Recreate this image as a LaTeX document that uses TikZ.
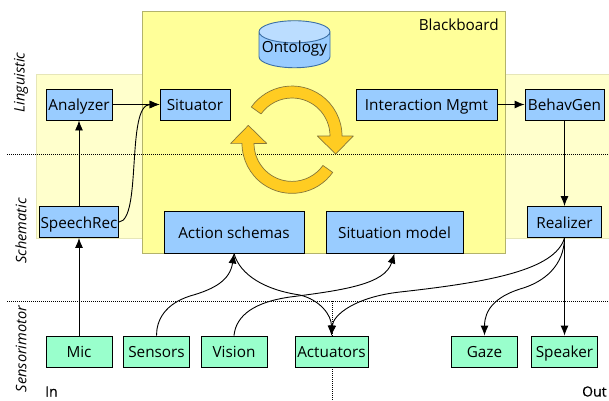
\documentclass[tikz,border=0pt]{standalone}
\usepackage{fontspec}
\setmainfont{Open Sans}
\newfontfamily\ioFont[FakeBold=0.3]{Open Sans}
\usetikzlibrary{arrows.meta,shapes.geometric}
\definecolor{boardFill}{HTML}{FFFF99}
\definecolor{boardEdge}{HTML}{B3B36B}
\definecolor{bandFill}{HTML}{FFFFCC}
\definecolor{bandEdge}{HTML}{E6E6B8}
\definecolor{compFill}{HTML}{99CCFF}
\definecolor{ioFill}{HTML}{99FFCC}
\definecolor{ontoEdge}{HTML}{3A6EA5}
\definecolor{ontoTop}{HTML}{BBDDFF}
\definecolor{loopFill}{HTML}{FFCC22}
\definecolor{loopEdge}{HTML}{85763A}
\tikzset{
 x=1pt, y=1pt,
 block/.style = {draw=black, line width=0.9pt, inner sep=0pt, text height=15pt, text depth=3pt, font=\fontsize{15.3}{17}\selectfont},
 comp/.style = {block, fill=compFill},
 io/.style = {block, fill=ioFill},
 link/.style = {draw=black, line width=0.9pt, -{Latex[length=10pt,width=8pt]}},
 layer/.style = {rotate=90, font=\itshape\fontsize{14.5}{16}\selectfont},
 sep/.style = {draw=black, line width=0.6pt, dash pattern=on 1pt off 1pt},
 loop/.style = {draw=loopEdge, fill=loopFill, line width=0.7pt, line join=round}
}
\newcommand{\connectCB}[2]{
    \draw[link] (#1) -- (#2);
}
\begin{document}
\begin{tikzpicture}
    \useasboundingbox (0,0) rectangle (609,400);

    % bands and board
    \draw[fill=bandFill, draw=bandEdge, line width=0.9pt] (36,162) rectangle (142,326);
    \draw[fill=bandFill, draw=bandEdge, line width=0.9pt] (505,162) rectangle (614,326);
    \node[draw=boardEdge, fill=boardFill, line width=0.9pt, minimum width=363pt, minimum height=242pt, inner sep=0pt] (board) at (323.5,268) {};
    \node[anchor=base east, inner sep=0pt, font=\fontsize{15.3}{17}\selectfont] (boardLabel) at (499,370) {Blackboard};

    % layer separators
    \coordinate (sepUL) at (7,245.5);
    \coordinate (sepUR) at (609,245.5);
    \coordinate (sepLL) at (7,99);
    \coordinate (sepLR) at (609,99);
    \coordinate (sepT) at (332.5,99);
    \coordinate (sepB) at (332.5,0);
    \draw[sep] (sepUL) -- (sepUR);
    \draw[sep] (sepLL) -- (sepLR);
    \draw[sep] (sepT) -- (sepB);

    % loop arrows
    \foreach \rot in {0,180}{
        \draw[loop, rotate around={\rot:(292,260.3)}] (251.3,293) arc (144.5:0:50) -- (353.3,264) -- (335.7,246) -- (317.3,264) -- (330,264) arc (0:144.5:38) -- cycle;
    }

    % cylinder
    \node[cylinder, shape border rotate=90, aspect=0.34, draw=ontoEdge, line width=0.9pt, cylinder uses custom fill, cylinder body fill=compFill, cylinder end fill=ontoTop, minimum width=71pt, minimum height=47pt, inner sep=0pt, text height=7pt, text depth=3pt, font=\fontsize{15.3}{17}\selectfont] (ontology) at (294.5,350) {Ontology};

    % components
    \node[comp, minimum width=66pt, minimum height=31pt] (analyzer) at (79,295.5) {Analyzer};
    \node[comp, minimum width=70pt, minimum height=31pt] (situator) at (195,295.5) {Situator};
    \node[comp, minimum width=141pt, minimum height=31pt] (interact) at (426.5,295.5) {Interaction Mgmt};
    \node[comp, minimum width=79pt, minimum height=31pt] (behav) at (564.5,295.5) {BehavGen};
    \node[comp, minimum width=79pt, minimum height=31pt] (speech) at (79,178) {SpeechRec};
    \node[comp, minimum width=74pt, minimum height=31pt] (realizer) at (564.5,178) {Realizer};
    \node[comp, minimum width=140pt, minimum height=42pt] (action) at (234,168) {Action schemas};
    \node[comp, minimum width=137pt, minimum height=42pt] (situation) at (394.5,168) {Situation model};

    % sensors and effectors
    \node[io, minimum width=66pt, minimum height=31pt] (mic) at (79,48.5) {Mic};
    \node[io, minimum width=66pt, minimum height=31pt] (sensors) at (156.5,48.5) {Sensors};
    \node[io, minimum width=66pt, minimum height=31pt] (vision) at (234,48.5) {Vision};
    \node[io, minimum width=73pt, minimum height=31pt] (actuators) at (331.5,48.5) {Actuators};
    \node[io, minimum width=66pt, minimum height=31pt] (gaze) at (484.5,48.5) {Gaze};
    \node[io, minimum width=66pt, minimum height=31pt] (speaker) at (564.5,48.5) {Speaker};

    % labels
    \node[layer] (lingLabel) at (21,317.5) {Linguistic};
    \node[layer] (schemLabel) at (21,169) {Schematic};
    \node[layer] (sensLabel) at (21,51) {Sensorimotor};
    \node[anchor=base west, inner sep=0pt, font=\ioFont\fontsize{14}{16}\selectfont] (inLabel) at (45,3.5) {In};
    \node[anchor=base west, inner sep=0pt, font=\ioFont\fontsize{14}{16}\selectfont] (outLabel) at (582,3.5) {Out};

    % connectors
    \connectCB{mic}{speech}
    \connectCB{speech}{analyzer}
    \connectCB{analyzer}{situator}
    \connectCB{interact}{behav}
    \connectCB{behav}{realizer}
    \connectCB{realizer}{speaker}
    \draw[link] (speech.east) .. controls (142,180) and (126,295.5) .. (situator.west);
    \draw[link] (sensors.north) .. controls (156.5,80) and (165,96) .. (190,104) .. controls (215,111) and (230,120) .. (action.south);
    \draw[link] (vision.north) .. controls (236,85) and (255,98) .. (290,103) .. controls (345,110) and (385,116) .. (situation.south);
    \draw[link] (action.south) .. controls (240,125) and (265,110) .. (300,105) .. controls (320,100) and (331.5,85) .. (actuators.north);
    \draw[link] (realizer.south) .. controls (555,130) and (490,118) .. (400,108) .. controls (355,103) and (333,85) .. (actuators.north);
    \draw[link] (realizer.south) .. controls (564,135) and (545,118) .. (520,111) .. controls (495,103) and (484.5,90) .. (gaze.north);
\end{tikzpicture}
\end{document}
